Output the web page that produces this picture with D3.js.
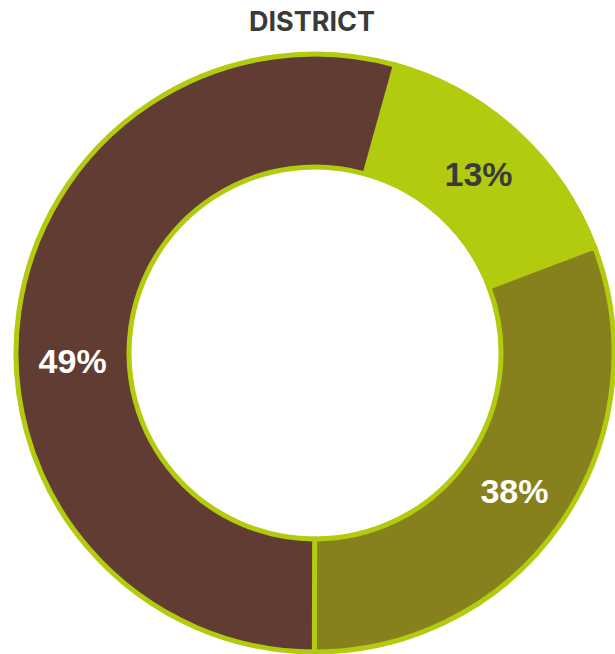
<!DOCTYPE html>
<html>
<head>
<meta charset="utf-8">
<script src="https://cdn.jsdelivr.net/npm/d3@7"></script>
<style>
  body { margin: 0; background: #fff; }
</style>
</head>
<body>
<svg id="chart" width="615" height="654"></svg>
<script>
"use strict"

// slices in clockwise order, starting at the lime wedge
const categories = ["Segment A", "Segment B", "Segment C"]
const shares = [14.9, 30.8, 54.3]          // share of the ring each wedge covers
const labels = ["13%", "38%", "49%"]       // printed text
const colors = ["#b3cb0f", "#86811d", "#613c32"]
const labelColors = ["#3a3a3a", "#ffffff", "#ffffff"]

const title = "DISTRICT"

const width = 615
const height = 654
const cx = 315
const cy = 353
const outer = 299
const inner = 186
const startDeg = 15.6

const svg = d3.select("#chart")

svg.append("text")
    .attr("x", 312)
    .attr("y", 31)
    .attr("text-anchor", "middle")
    .style("font-family", "Inter, 'Open Sans', sans-serif")
    .style("font-weight", 700)
    .style("font-size", "27px")
    .style("fill", "#3a3a3a")
    .text(title)

const pie = d3.pie()
    .sort(null)
    .value(d => d)
    .startAngle(startDeg * Math.PI / 180)
    .endAngle(startDeg * Math.PI / 180 + 2 * Math.PI)

const arc = d3.arc()
    .innerRadius(inner)
    .outerRadius(outer)

const g = svg.append("g")
    .attr("transform", "translate(" + cx + "," + cy + ")")

const arcs = pie(shares)

g.selectAll(".slice")
    .data(arcs)
    .enter()
    .append("path")
    .attr("class", "slice")
    .attr("d", arc)
    .style("fill", (d, i) => colors[i])
    .style("stroke", colors[0])
    .style("stroke-width", 5)
    .style("stroke-linejoin", "miter")

// the big wedge's label sits level with the centre, not at its mid angle
const labelArc = d3.arc()
    .innerRadius((inner + outer) / 2)
    .outerRadius((inner + outer) / 2)

g.selectAll(".label")
    .data(arcs)
    .enter()
    .append("text")
    .attr("class", "label")
    .attr("transform", (d, i) => {
        let a = d
        if (i === 2) a = {startAngle: 1.5 * Math.PI - 0.03, endAngle: 1.5 * Math.PI - 0.03}
        const c = labelArc.centroid(a)
        return "translate(" + c[0] + "," + c[1] + ")"
    })
    .attr("text-anchor", "middle")
    .attr("dy", "0.36em")
    .style("font-family", "'Liberation Sans', Arial, sans-serif")
    .style("font-weight", 700)
    .style("font-size", "34px")
    .style("fill", (d, i) => labelColors[i])
    .text((d, i) => labels[i])
</script>
</body>
</html>
